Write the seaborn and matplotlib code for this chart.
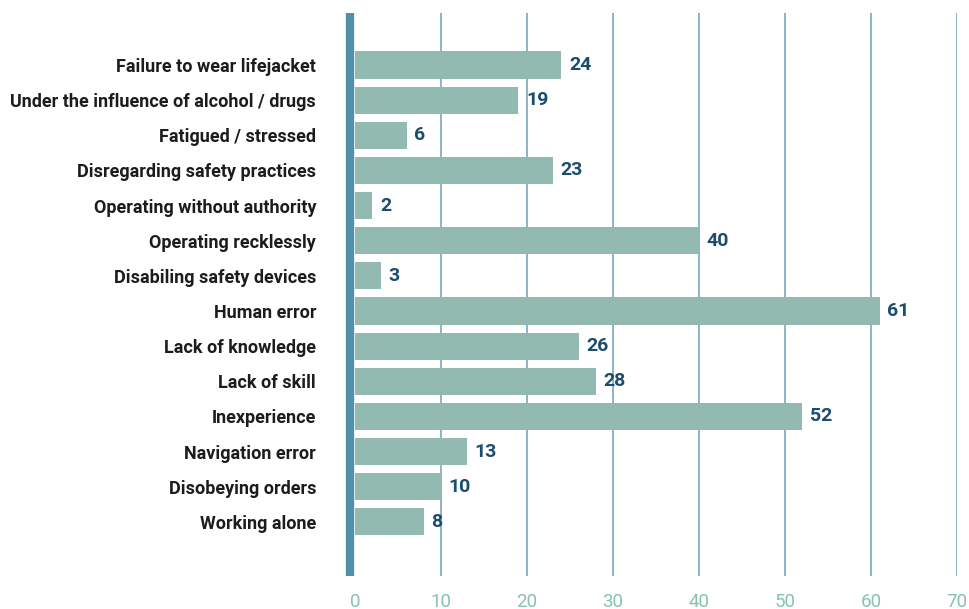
import matplotlib
matplotlib.use("Agg")
import matplotlib.pyplot as plt
import seaborn as sns
import pandas as pd

categories = [
    "Failure to wear lifejacket",
    "Under the influence of alcohol / drugs",
    "Fatigued / stressed",
    "Disregarding safety practices",
    "Operating without authority",
    "Operating recklessly",
    "Disabiling safety devices",
    "Human error",
    "Lack of knowledge",
    "Lack of skill",
    "Inexperience",
    "Navigation error",
    "Disobeying orders",
    "Working alone",
]
values = [24, 19, 6, 23, 2, 40, 3, 61, 26, 28, 52, 13, 10, 8]
xticks = [0, 10, 20, 30, 40, 50, 60, 70]

sns.set_style("white")
plt.rcParams["font.family"] = ["Roboto", "DejaVu Sans"]

df = pd.DataFrame({"cat": categories, "val": values})

fig = plt.figure(figsize=(9.69, 6.09), dpi=100)
ax = fig.add_axes([355/969, 1 - 576/609, (957-355)/969, (576-13)/609])

sns.barplot(data=df, x="val", y="cat", color="#93bab1", saturation=1,
            width=0.77, ax=ax, orient="h", zorder=3, linewidth=0)

ax.set_xlim(0, 70)
ax.set_ylim(14.54, -1.48)
ax.set_xticks(xticks)
ax.set_xticklabels([str(t) for t in xticks])
ax.set_xlabel("")
ax.set_ylabel("")

for x in xticks[1:]:
    ax.axvline(x, color="#6d9fb8", lw=1.1, zorder=1)

for s in ["top", "right", "bottom", "left"]:
    ax.spines[s].set_visible(False)
ax.plot([-0.58, -0.58], [14.54, -1.48], color="#5290aa", lw=6,
        solid_capstyle="butt", clip_on=False, zorder=4)

ax.tick_params(axis="x", length=0, pad=12, labelsize=13.5, labelcolor="#86c2ae")
ax.tick_params(axis="y", length=0, pad=28, labelsize=13, labelcolor="#1c1c1c")
for lbl in ax.get_yticklabels():
    lbl.set_fontweight("semibold")

for i, v in enumerate(values):
    ax.text(v + 0.9, i, str(v), va="center", ha="left", fontsize=14,
            fontweight="bold", color="#1a4d6e")

fig.savefig("out.png", dpi=100)
